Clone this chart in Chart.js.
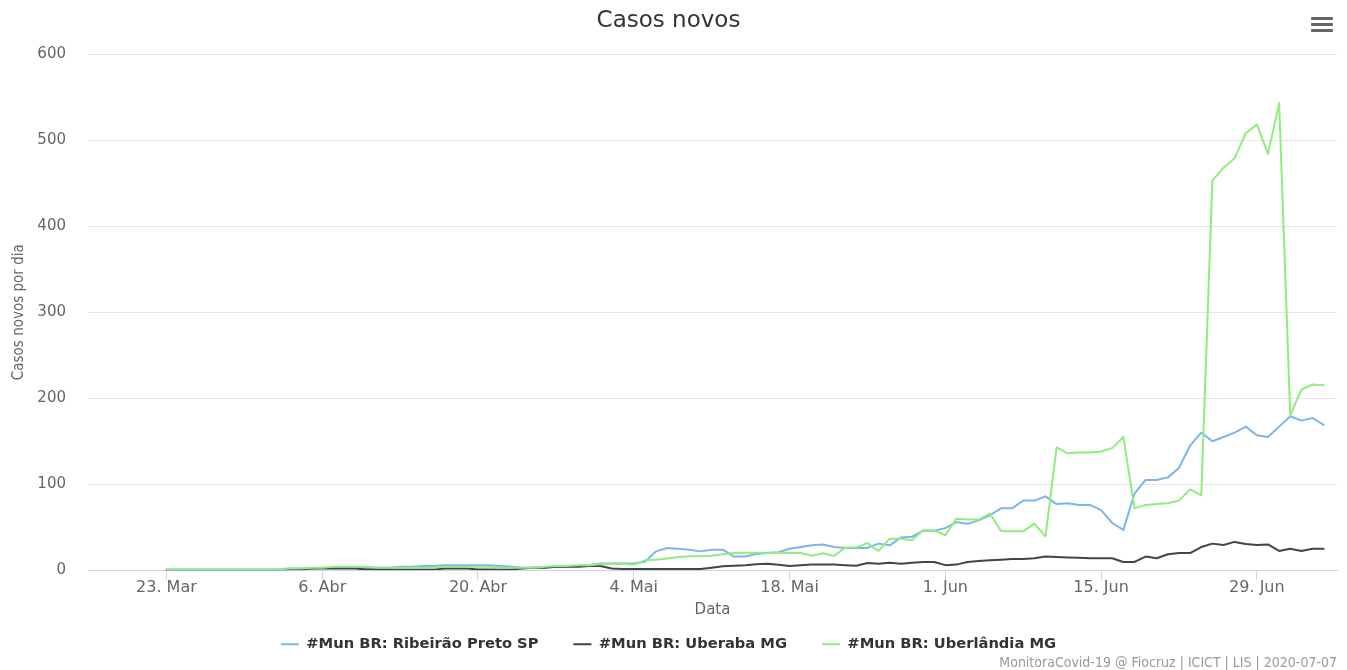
<!DOCTYPE html>
<html><head><meta charset="utf-8">
<script src="https://cdn.jsdelivr.net/npm/chart.js@4"></script>
<style>
html,body{margin:0;padding:0;background:#fff;}
#wrap{position:relative;width:1347px;height:670px;}
canvas{position:absolute;left:0;top:0;}
#menu{position:absolute;left:1311px;top:17px;width:22px;}
#menu div{height:3px;background:#666;margin-bottom:3px;border-radius:1px;}
#credits{position:absolute;right:10px;top:654px;font:14px "Liberation Sans Narrow","DejaVu Sans Condensed",sans-serif;color:#999;white-space:nowrap;}
</style></head>
<body><div id="wrap"><canvas id="c" width="1347" height="670"></canvas>
<div id="menu"><div></div><div></div><div></div></div>
<div id="credits">MonitoraCovid-19 @ Fiocruz | ICICT | LIS | 2020-07-07</div></div>
<script>
// Days counted from 23 Mar 2020 (day 0) to 5 Jul 2020 (day 104)
const startDate = '2020-03-23';
const tickDays = [0, 14, 28, 42, 56, 70, 84, 98];
const tickLabels = ['23. Mar', '6. Abr', '20. Abr', '4. Mai', '18. Mai', '1. Jun', '15. Jun', '29. Jun'];
const seriesNames = ['#Mun BR: Ribeirão Preto SP', '#Mun BR: Uberaba MG', '#Mun BR: Uberlândia MG'];

const ribeiraoPreto = [1,1,1,1,1,1,1,1,1,1,1,2,2,2,3,3,3,3,3,3,3,4,4,5,5,6,6,6,6,6,5,4,3,3,3,4,4,5,6,
  8,8,8,8,10,22,26,25,24,22,24,24,16,16,19,20,21,25,27,29,30,27,26,26,26,31,29,38,39,46,46,49,56,54,58,64,72,72,81,81,86,77,78,76,76,70,55,47,89,105,105,108,119,145,160,150,155,160,167,157,155,167,179,174,177,169];
const uberaba = [0,0,0,0,0,0,0,0,0,0,0,1,1,2,2,2,2,2,1,1,1,1,1,1,1,2,2,2,1,1,1,1,2,3,3,4,4,4,5,
  5,2,1.5,1.5,1.5,1.5,1.5,1.5,1.5,1.5,3,4.6,5.3,6,7,7.7,6.5,5,6,6.6,6.6,6.6,6,5.4,8.5,7.7,8.8,7.7,8.8,9.7,9.7,6,6.6,9.7,10.9,11.6,12.4,13.2,13.2,14,16,15.5,15,14.5,14,14,14,9.7,9.7,16,14,18.6,20,20,27,31,29.5,33,30.5,29.5,30,22.5,25,22.5,25,25];
const uberlandia = [1,1,1,1,1,1,1,1,1,1,1,2,2,3,3,4,4,4,4,3,3,3,3,3,3,4,4,4,4,4,3,3,3,3,4,5,5,6,6,
  7,7.5,7.7,6.5,11.6,12.4,13.6,15.5,16.3,16.3,17,18.6,20,20.5,20.5,20.5,20.5,20,20,17,19.8,16.7,26.4,26.4,31.8,22.5,36.8,36.8,35,46.5,46.5,40.7,60,59,59,66,45.7,45.3,45.3,54.3,39.5,143,136,137,137,138,142,155,72,76,77,78,81,94,87,453,468,479,508,518,484,543,180,210,216,215];

const toPoints = arr => arr.map((v, i) => ({x: i, y: v}));

new Chart(document.getElementById('c'), {
  type: 'line',
  data: {
    datasets: [
      {label: seriesNames[0], data: toPoints(ribeiraoPreto), borderColor: '#7cb5ec', backgroundColor: '#7cb5ec', order: 2},
      {label: seriesNames[1], data: toPoints(uberaba), borderColor: '#434348', backgroundColor: '#434348', order: 1},
      {label: seriesNames[2], data: toPoints(uberlandia), borderColor: '#90ed7d', backgroundColor: '#90ed7d', order: 0}
    ]
  },
  options: {
    responsive: false,
    animation: false,
    devicePixelRatio: 1,
    datasets: {line: {borderWidth: 2, pointRadius: 0, tension: 0, fill: false, borderJoinStyle: 'round', borderCapStyle: 'round'}},
    layout: {padding: {left: 0, right: 10, top: 0, bottom: 8.5}},
    plugins: {
      tooltip: {enabled: false},
      title: {display: true, text: 'Casos novos', color: '#333',
        font: {family: 'DejaVu Sans', size: 23, weight: 'normal'}, padding: {top: 7, bottom: 19.5}},
      legend: {position: 'bottom',
        labels: {usePointStyle: true, pointStyle: 'line', pointStyleWidth: 18, padding: 35, color: '#333',
          font: {family: 'DejaVu Sans', weight: 'bold', size: 14.7},
          sort: (a, b) => a.datasetIndex - b.datasetIndex}}
    },
    scales: {
      x: {
        type: 'linear', min: -7.05, max: 105.2,
        afterBuildTicks: s => { s.ticks = tickDays.map(v => ({value: v})); },
        afterFit: s => { s.height = 31.5; },
        ticks: {autoSkip: false, maxRotation: 0, padding: -2, color: '#666',
          font: {family: 'DejaVu Sans', size: 16},
          callback: (v, i) => tickLabels[i]},
        grid: {drawOnChartArea: false, drawTicks: true, tickLength: 10, tickColor: '#ccd6eb', color: '#ccd6eb'},
        border: {color: '#ccd6eb', width: 1},
        title: {display: true, text: 'Data', color: '#666', font: {family: 'DejaVu Sans', size: 15},
          padding: {top: 0, bottom: -17}}
      },
      y: {
        min: 0, max: 600,
        afterFit: s => { s.width = 88; },
        ticks: {stepSize: 100, padding: 22, color: '#666', font: {family: 'DejaVu Sans', size: 15}},
        grid: {color: '#e6e6e6', drawTicks: false},
        border: {display: false},
        title: {display: true, text: 'Casos novos por dia', color: '#666',
          font: {family: "'DejaVu Sans Condensed', 'Liberation Sans', sans-serif", size: 15}, padding: {top: 10}}
      }
    }
  }
});
</script>
</body></html>
